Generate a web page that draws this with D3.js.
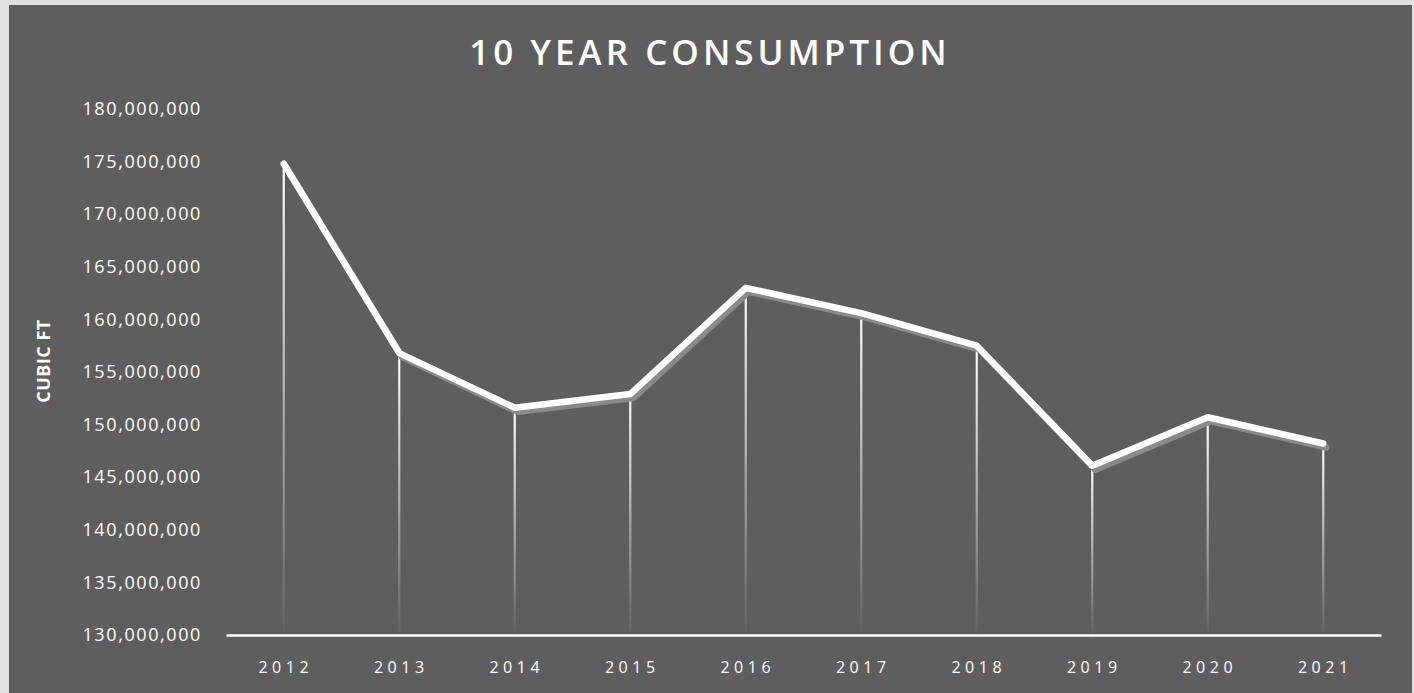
<!DOCTYPE html>
<html>
<head>
<meta charset="utf-8">
<script src="https://cdn.jsdelivr.net/npm/d3@7"></script>
<style>
  html, body { margin: 0; padding: 0; background: #dedede; }
  svg { display: block; }
  text { font-family: "Open Sans", "Noto Sans", sans-serif; fill: #ffffff; }
</style>
</head>
<body>
<svg id="chart" width="1414" height="693"></svg>
<script>
// Annual consumption, cubic feet
const years = ["2012", "2013", "2014", "2015", "2016", "2017", "2018", "2019", "2020", "2021"];
const consumption = [174800000, 156800000, 151600000, 152900000, 163000000, 160600000, 157500000, 146100000, 150700000, 148200000];
const yTickValues = [130000000, 135000000, 140000000, 145000000, 150000000, 155000000, 160000000, 165000000, 170000000, 175000000, 180000000];
const titleText = "10 YEAR CONSUMPTION";
const yAxisTitle = "CUBIC FT";

const W = 1414, H = 693;
const svg = d3.select("#chart");
const panel = "#5e5e5e";

// Outer frame and dark panel
svg.append("rect").attr("width", W).attr("height", H).attr("fill", "#e0e0e0");
svg.append("rect").attr("x", 9).attr("y", 5).attr("width", 1403).attr("height", H - 5).attr("fill", panel);

const x = d3.scaleBand().domain(years).range([226, 1381]).padding(0);
const y = d3.scaleLinear().domain([130000000, 180000000]).range([635, 109]);
const cx = d => x(d) + x.bandwidth() / 2;

const data = years.map((yr, i) => ({ year: yr, value: consumption[i] }));

// Title
svg.append("text")
  .attr("x", 710).attr("y", 65)
  .attr("text-anchor", "middle")
  .style("font-size", "35px").style("font-weight", "600").style("letter-spacing", "4px")
  .text(titleText);

// Y axis title
svg.append("text")
  .attr("transform", "translate(50,361) rotate(-90)")
  .attr("text-anchor", "middle")
  .style("font-size", "18px").style("font-weight", "700").style("letter-spacing", "0.5px")
  .text(yAxisTitle);

// Y axis labels
const yAxis = svg.append("g")
  .attr("transform", "translate(202,0)")
  .call(d3.axisLeft(y).tickValues(yTickValues).tickSize(0).tickPadding(0).tickFormat(d3.format(",")));
yAxis.select(".domain").remove();
yAxis.selectAll("text")
  .style("font-size", "18px").style("letter-spacing", "1.6px")
  .attr("fill", "#ffffff");

// Drop lines with per-line fading gradients
const defs = svg.append("defs");
data.forEach((d, i) => {
  const g = defs.append("linearGradient")
    .attr("id", "drop" + i)
    .attr("gradientUnits", "userSpaceOnUse")
    .attr("x1", 0).attr("x2", 0)
    .attr("y1", y(d.value)).attr("y2", y.range()[0]);
  g.append("stop").attr("offset", "0%").attr("stop-color", "#ffffff").attr("stop-opacity", 1);
  g.append("stop").attr("offset", "100%").attr("stop-color", "#ffffff").attr("stop-opacity", 0.02);
});

svg.append("g").selectAll("line")
  .data(data)
  .join("line")
  .attr("x1", d => cx(d.year)).attr("x2", d => cx(d.year))
  .attr("y1", d => y(d.value)).attr("y2", y.range()[0] - 2)
  .attr("stroke", (d, i) => `url(#drop${i})`)
  .attr("stroke-width", 2.2);

// X axis
const xAxis = svg.append("g")
  .attr("transform", `translate(0,${y.range()[0]})`)
  .call(d3.axisBottom(x).tickSize(0).tickPadding(27));
xAxis.select(".domain").attr("stroke", "#ffffff").attr("stroke-width", 2.5);
xAxis.selectAll("text")
  .style("font-size", "16px").style("letter-spacing", "4.5px")
  .attr("dx", "2px")
  .attr("fill", "#ffffff");

// Consumption line with soft drop shadow
const line = d3.line().x(d => cx(d.year)).y(d => y(d.value));

svg.append("path")
  .datum(data)
  .attr("d", line)
  .attr("transform", "translate(3,4)")
  .attr("fill", "none")
  .attr("stroke", "#8a8a8a")
  .attr("stroke-width", 6.5)
  .attr("stroke-linejoin", "round")
  .attr("stroke-linecap", "round");

svg.append("path")
  .datum(data)
  .attr("d", line)
  .attr("fill", "none")
  .attr("stroke", "#ffffff")
  .attr("stroke-width", 6.5)
  .attr("stroke-linejoin", "round")
  .attr("stroke-linecap", "round");
</script>
</body>
</html>
